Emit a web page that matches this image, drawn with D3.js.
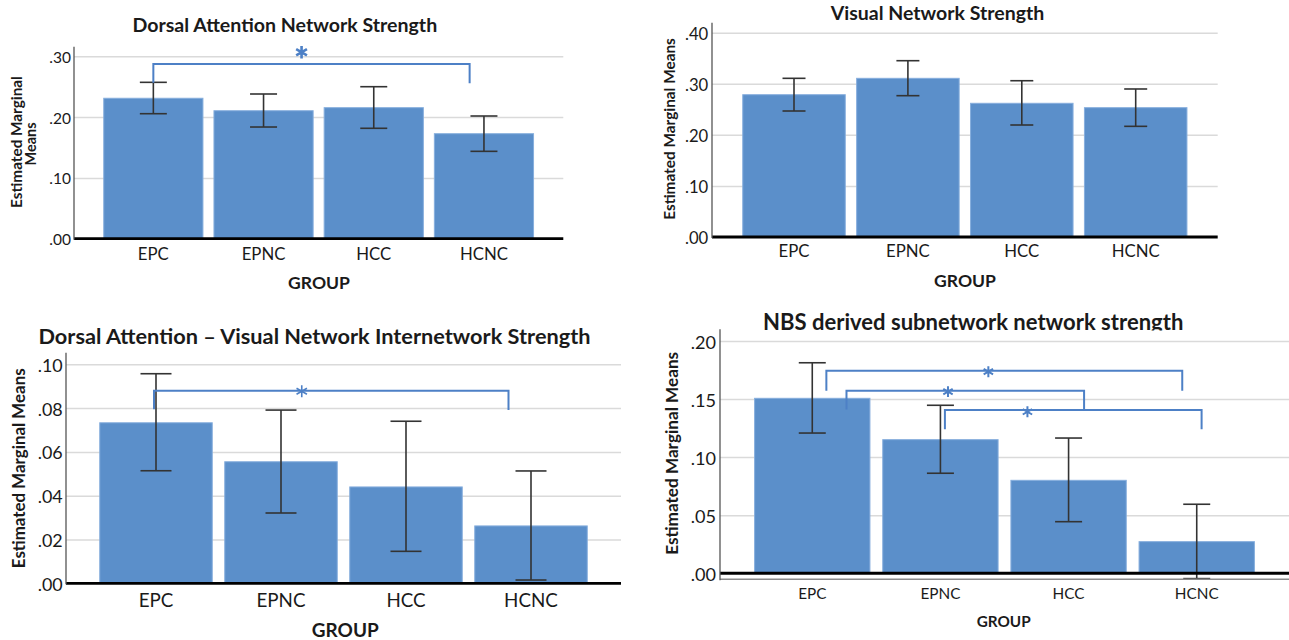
<!DOCTYPE html>
<html>
<head>
<meta charset="utf-8">
<script src="https://cdn.jsdelivr.net/npm/d3@7"></script>
<style>
  html, body { margin: 0; padding: 0; background: #ffffff; }
  svg { display: block; font-family: Lato, "Open Sans", sans-serif; }
</style>
</head>
<body>
<svg id="chart" width="1289" height="640"></svg>
<script>
// ---------- DATA ----------
const categories = ["EPC", "EPNC", "HCC", "HCNC"];
const titles = [
  "Dorsal Attention Network Strength",
  "Visual Network Strength",
  "Dorsal Attention \u2013 Visual Network Internetwork Strength",
  "NBS derived subnetwork network strength"
];
const xAxisTitle = "GROUP";
const yAxisTitleLines = [
  ["Estimated Marginal", "Means"],
  ["Estimated Marginal Means"],
  ["Estimated Marginal Means"],
  ["Estimated Marginal Means"]
];

// Dorsal attention network strength
const daMeans = [0.2310, 0.2105, 0.2155, 0.1727];
const daLower = [0.2056, 0.1837, 0.1816, 0.1437];
const daUpper = [0.2572, 0.2380, 0.2500, 0.2018];
const daTicks = [0, 0.10, 0.20, 0.30];
const daDomain = [0, 0.3158];

// Visual network strength
const visMeans = [0.2786, 0.3107, 0.2618, 0.2532];
const visLower = [0.2467, 0.2767, 0.2193, 0.2167];
const visUpper = [0.3107, 0.3452, 0.3060, 0.2898];
const visTicks = [0, 0.10, 0.20, 0.30, 0.40];
const visDomain = [0, 0.4196];

// DAN - Visual internetwork strength
const interMeans = [0.0733, 0.0555, 0.0440, 0.0262];
const interLower = [0.0514, 0.0321, 0.0146, 0.0015];
const interUpper = [0.0957, 0.0791, 0.0740, 0.0513];
const interTicks = [0, 0.02, 0.04, 0.06, 0.08, 0.10];
const interDomain = [0, 0.1053];

// NBS derived subnetwork strength
const nbsMeans = [0.1506, 0.1150, 0.0800, 0.0272];
const nbsLower = [0.1207, 0.0861, 0.0444, -0.0046];
const nbsUpper = [0.1812, 0.1446, 0.1164, 0.0594];
const nbsTicks = [0, 0.05, 0.10, 0.15, 0.20];
const nbsDomain = [-0.0052, 0.21];

// significance brackets (category index positions, value levels)
const daSig = [
  {from: 0, to: 2.87, level: 0.2873, footFrom: 0.2566, footTo: 0.2556, star: 1.345, starLevel: 0.3066}
];
const visSig = [];
const interSig = [
  {from: -0.016, to: 2.82, level: 0.0879, footFrom: 0.0795, footTo: 0.0791, star: 1.166, starLevel: 0.0877}
];
const nbsSig = [
  {from: 0.11, to: 2.887, level: 0.1744, footFrom: 0.1570, footTo: 0.1570, star: 1.374, starLevel: 0.1735},
  {from: 0.267, to: 2.121, level: 0.1570, footFrom: 0.1410, footTo: 0.1405, star: 1.059, starLevel: 0.1564},
  {from: 1.035, to: 3.038, level: 0.1405, footFrom: 0.1240, footTo: 0.1240, star: 1.679, starLevel: 0.1390}
];

// ---------- LAYOUT / STYLE ----------
const layouts = [
  {x0: 74, x1: 563.3, yb: 238.7, yt: 46.7,
   titleX: 284.8, titleY: 31.7, titleW: 305, titleFS: 17,
   ylab: [{x: 21.8, y: 142, w: 132}, {x: 36, y: 144, w: 43}], ylabFS: 13,
   tickFS: 15, tickW: 21.7, tickX: 71, xFS: 16, xW: 31, xY: 260,
   groupX: 319, groupY: 288.7, groupW: 62, groupFS: 17,
   capW: 27, starR: 6.2, starSW: 2.6},
  {x0: 712, x1: 1217.7, yb: 237, yt: 22.7,
   titleX: 937.5, titleY: 19.5, titleW: 213.6, titleFS: 17,
   ylab: [{x: 674.5, y: 129, w: 181.7}], ylabFS: 14,
   tickFS: 16, tickW: 23.3, tickX: 708.3, xFS: 16, xW: 31, xY: 257.3,
   groupX: 965, groupY: 287.3, groupW: 62, groupFS: 17,
   capW: 23, starR: 6, starSW: 2},
  {x0: 66, x1: 621, yb: 583.3, yt: 352.7,
   titleX: 314.5, titleY: 344, titleW: 552.4, titleFS: 19,
   ylab: [{x: 24.5, y: 468.3, w: 200}], ylabFS: 15,
   tickFS: 17, tickW: 25, tickX: 62.7, xFS: 17.5, xW: 34.7, xY: 606.7,
   groupX: 345.3, groupY: 636.7, groupW: 67, groupFS: 18,
   capW: 31, starR: 6, starSW: 1.6},
  {x0: 720, x1: 1289, yb: 579.3, yt: 329.3,
   titleX: 973.2, titleY: 329.5, titleW: 420.6, titleFS: 19, titleClip: 330.5,
   ylab: [{x: 677.5, y: 453.3, w: 203}], ylabFS: 15,
   tickFS: 17, tickW: 25.3, tickX: 716, xFS: 15, xW: 28.3, xY: 599.3,
   groupX: 1003.7, groupY: 627.3, groupW: 54, groupFS: 16,
   capW: 27, starR: 5.4, starSW: 2}
];

const panels = [
  {means: daMeans, lower: daLower, upper: daUpper, ticks: daTicks, domain: daDomain, sig: daSig},
  {means: visMeans, lower: visLower, upper: visUpper, ticks: visTicks, domain: visDomain, sig: visSig},
  {means: interMeans, lower: interLower, upper: interUpper, ticks: interTicks, domain: interDomain, sig: interSig},
  {means: nbsMeans, lower: nbsLower, upper: nbsUpper, ticks: nbsTicks, domain: nbsDomain, sig: nbsSig}
];

const BAR_FILL = "#5b8fca";
const BAR_EDGE = "#86aedd";
const GRID = "#dadada";
const ERR = "#333333";
const SIG = "#4d80c6";
const TEXT = "#1a1a1a";

const svg = d3.select("#chart");
const defs = svg.append("defs");

function fitWidth(sel, w) {
  const len = sel.node().getComputedTextLength();
  const fs = parseFloat(sel.attr("font-size"));
  if (len > 0) sel.attr("font-size", fs * w / len);
}
// scale a whole group of labels so that one reference label has width w
function fitGroup(sel, refNode, w) {
  const len = refNode.getComputedTextLength();
  const fs = parseFloat(d3.select(refNode).attr("font-size"));
  if (len > 0) sel.attr("font-size", fs * w / len);
}
const fmtTick = v => {
  const s = d3.format(".2f")(v);
  return s.replace(/^0/, "").replace(/^-0/, "-");
};

panels.forEach((p, pi) => {
  const L = layouts[pi];
  const g = svg.append("g");

  const x = d3.scaleBand().domain(categories).range([L.x0, L.x1])
    .paddingInner(0.1).paddingOuter(0.27);
  const y = d3.scaleLinear().domain(p.domain).range([L.yb, L.yt]);
  const c0 = x(categories[0]) + x.bandwidth() / 2;
  const xi = d3.scaleLinear().domain([0, 1]).range([c0, c0 + x.step()]);

  // gridlines
  const gridAxis = d3.axisLeft(y).tickValues(p.ticks.filter(t => t !== 0))
    .tickSize(-(L.x1 - L.x0)).tickFormat("");
  const gg = g.append("g").attr("transform", `translate(${L.x0},0)`).call(gridAxis);
  gg.select(".domain").remove();
  gg.selectAll(".tick line").attr("stroke", GRID).attr("stroke-width", 1.5);

  // bars
  g.selectAll("rect.bar").data(p.means).join("rect")
    .attr("class", "bar")
    .attr("x", (d, i) => x(categories[i]))
    .attr("width", x.bandwidth())
    .attr("y", d => y(d))
    .attr("height", d => y(0) - y(d))
    .attr("fill", BAR_FILL)
    .attr("stroke", BAR_EDGE)
    .attr("stroke-width", 1);

  // error bars
  const eb = g.append("g").attr("stroke", ERR).attr("stroke-width", 1.6).attr("fill", "none");
  categories.forEach((c, i) => {
    const cx = x(c) + x.bandwidth() / 2;
    eb.append("line").attr("x1", cx).attr("x2", cx).attr("y1", y(p.upper[i])).attr("y2", y(p.lower[i]));
    eb.append("line").attr("x1", cx - L.capW / 2).attr("x2", cx + L.capW / 2).attr("y1", y(p.upper[i])).attr("y2", y(p.upper[i]));
    eb.append("line").attr("x1", cx - L.capW / 2).attr("x2", cx + L.capW / 2).attr("y1", y(p.lower[i])).attr("y2", y(p.lower[i]));
  });

  // bottom axis (gray) when domain goes below zero
  if (p.domain[0] < 0) {
    g.append("line").attr("x1", L.x0).attr("x2", L.x1).attr("y1", y(p.domain[0])).attr("y2", y(p.domain[0]))
      .attr("stroke", "#8a8a8a").attr("stroke-width", 1.5);
  }
  // zero baseline
  g.append("line").attr("x1", L.x0).attr("x2", L.x1).attr("y1", y(0)).attr("y2", y(0))
    .attr("stroke", "#000").attr("stroke-width", 2.8);
  // y axis line
  g.append("line").attr("x1", L.x0).attr("x2", L.x0).attr("y1", y(p.domain[1])).attr("y2", y(p.domain[0]) + 1)
    .attr("stroke", "#555").attr("stroke-width", 1.3);

  // tick labels
  const yt = g.selectAll("text.ytick").data(p.ticks).join("text")
    .attr("class", "ytick")
    .attr("x", L.tickX).attr("y", d => y(d)).attr("dy", "0.42em")
    .attr("text-anchor", "end").attr("font-size", L.tickFS).attr("fill", TEXT)
    .text(fmtTick);
  fitGroup(yt, yt.nodes()[yt.nodes().length - 1], L.tickW);

  // category labels
  const xc = g.selectAll("text.xcat").data(categories).join("text")
    .attr("class", "xcat")
    .attr("x", d => x(d) + x.bandwidth() / 2).attr("y", L.xY)
    .attr("text-anchor", "middle").attr("font-size", L.xFS).attr("fill", TEXT)
    .text(d => d);
  fitGroup(xc, xc.nodes()[0], L.xW);

  // significance brackets
  const sg = g.append("g");
  p.sig.forEach(s => {
    const xa = xi(s.from), xb = xi(s.to);
    sg.append("path")
      .attr("d", `M${xa},${y(s.footFrom)}V${y(s.level)}H${xb}V${y(s.footTo)}`)
      .attr("fill", "none").attr("stroke", SIG).attr("stroke-width", 2);
    const sz = Math.pow(L.starR / 0.59436, 2);
    sg.append("path")
      .attr("d", d3.symbol(d3.symbolAsterisk, sz)())
      .attr("transform", `translate(${xi(s.star)},${y(s.starLevel)})`)
      .attr("fill", "none").attr("stroke", SIG).attr("stroke-width", L.starSW);
  });

  // title
  let clipAttr = null;
  if (L.titleClip) {
    const id = "clip" + pi;
    defs.append("clipPath").attr("id", id).append("rect")
      .attr("x", 0).attr("y", L.titleY - 40).attr("width", 1289).attr("height", L.titleClip - (L.titleY - 40));
    clipAttr = `url(#${id})`;
  }
  const tt = g.append("text")
    .attr("x", L.titleX).attr("y", L.titleY)
    .attr("text-anchor", "middle").attr("font-weight", "bold")
    .attr("font-size", L.titleFS).attr("fill", TEXT)
    .text(titles[pi]);
  if (clipAttr) tt.attr("clip-path", clipAttr);
  fitWidth(tt, L.titleW);

  // y axis title
  yAxisTitleLines[pi].forEach((line, li) => {
    const pos = L.ylab[li];
    const t = g.append("text")
      .attr("transform", `translate(${pos.x},${pos.y}) rotate(-90)`)
      .attr("text-anchor", "middle").attr("font-weight", "bold")
      .attr("font-size", L.ylabFS).attr("fill", TEXT)
      .text(line);
    fitWidth(t, pos.w);
  });

  // x axis title
  const gt = g.append("text")
    .attr("x", L.groupX).attr("y", L.groupY)
    .attr("text-anchor", "middle").attr("font-weight", "bold")
    .attr("font-size", L.groupFS).attr("fill", TEXT)
    .text(xAxisTitle);
  fitWidth(gt, L.groupW);
});
</script>
</body>
</html>
